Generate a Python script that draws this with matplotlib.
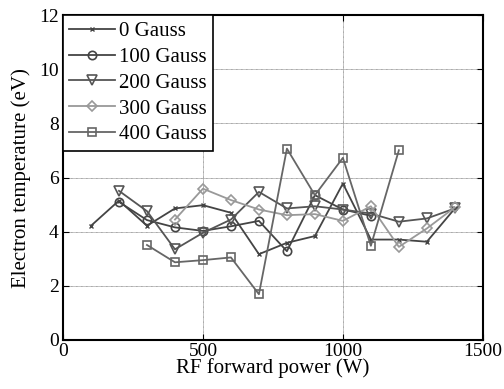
import matplotlib
matplotlib.use("Agg")
import matplotlib.pyplot as plt

plt.rcParams["font.family"] = ["Liberation Serif", "DejaVu Serif"]
plt.rcParams["font.size"] = 14

power_0 = [100, 200, 300, 400, 500, 600, 700, 800, 900, 1000, 1100, 1200, 1300, 1400]
temp_0 = [4.22, 5.15, 4.22, 4.86, 4.98, 4.70, 3.17, 3.59, 3.84, 5.78, 3.71, 3.71, 3.63, 4.86]

power_100 = [200, 300, 400, 500, 600, 700, 800, 900, 1000, 1100]
temp_100 = [5.10, 4.43, 4.16, 4.03, 4.20, 4.40, 3.28, 5.35, 4.82, 4.59]

power_200 = [200, 300, 400, 500, 600, 700, 800, 900, 1000, 1100, 1200, 1300, 1400]
temp_200 = [5.51, 4.76, 3.35, 3.96, 4.45, 5.47, 4.86, 4.94, 4.82, 4.67, 4.37, 4.49, 4.86]

power_300 = [400, 500, 600, 700, 800, 900, 1000, 1100, 1200, 1300, 1400]
temp_300 = [4.45, 5.59, 5.17, 4.82, 4.61, 4.65, 4.40, 4.94, 3.44, 4.12, 4.90]

power_400 = [300, 400, 500, 600, 700, 800, 900, 1000, 1100, 1200]
temp_400 = [3.51, 2.87, 2.95, 3.05, 1.69, 7.07, 5.35, 6.73, 3.48, 7.01]

fig = plt.figure(figsize=(5.04, 3.89), dpi=100)
ax = fig.add_axes([0.125, 0.126, 0.833, 0.835])

ax.plot(power_0, temp_0, color="#444444", marker="x", markersize=3, lw=1.3,
        label="0 Gauss")
ax.plot(power_100, temp_100, color="#444444", marker="o", markersize=6, mfc="none",
        mew=1.2, lw=1.3, label="100 Gauss")
ax.plot(power_200, temp_200, color="#555555", marker="v", markersize=7, mfc="none",
        mew=1.2, lw=1.3, label="200 Gauss")
ax.plot(power_300, temp_300, color="#999999", marker="D", markersize=5, mfc="none",
        mew=1.2, lw=1.3, label="300 Gauss")
ax.plot(power_400, temp_400, color="#666666", marker="s", markersize=6, mfc="none",
        mew=1.2, lw=1.3, label="400 Gauss")

ax.set_xlim(0, 1500)
ax.set_ylim(0, 12)
ax.set_xticks([0, 500, 1000, 1500])
ax.set_yticks([0, 2, 4, 6, 8, 10, 12])
ax.grid(True, color="#888888", lw=0.6, ls=(0, (1, 0.5)))
ax.tick_params(direction="in", length=4, labelsize=14, right=True, top=True)
ax.tick_params(axis="x", pad=2)
ax.tick_params(axis="y", pad=3)
for side in ax.spines.values():
    side.set_linewidth(1.5)

ax.set_xlabel("RF forward power (W)", fontsize=15, labelpad=-1)
ax.set_ylabel("Electron temperature (eV)", fontsize=15, labelpad=6)

leg = ax.legend(loc="upper left", fontsize=15, frameon=True, fancybox=False,
                borderaxespad=0, handlelength=2.2, handletextpad=0.2,
                labelspacing=0.3, borderpad=0.3)
leg.get_frame().set_edgecolor("black")
leg.get_frame().set_linewidth(1.2)
leg.get_frame().set_alpha(1)

fig.savefig("out.png", dpi=100)
